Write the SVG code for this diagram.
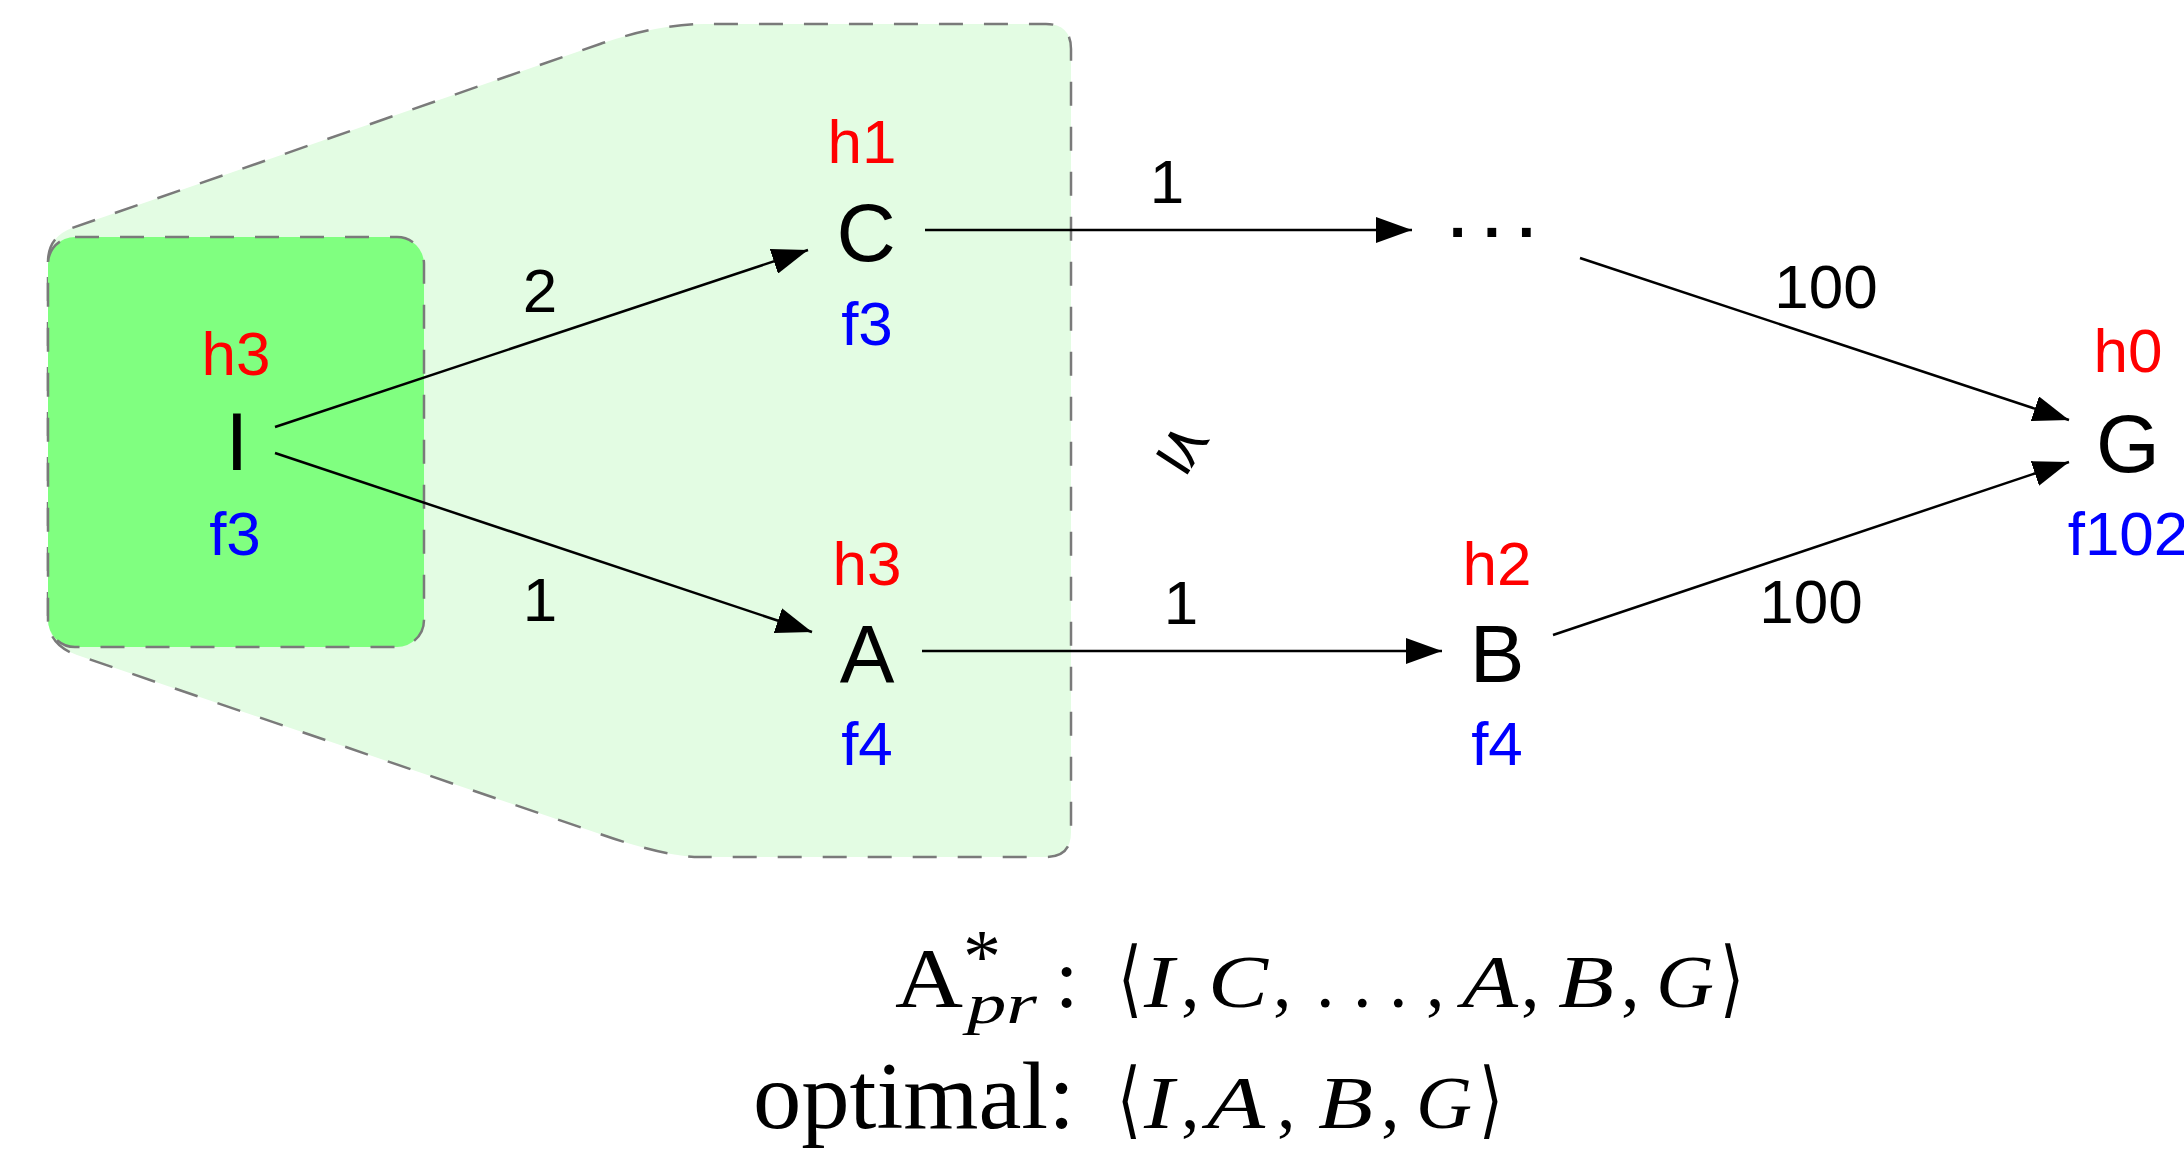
<svg xmlns="http://www.w3.org/2000/svg" width="2184" height="1151" viewBox="0 0 2184 1151">
<style>
.lbl{font-family:"Liberation Sans",Arial,sans-serif;font-size:62px;text-anchor:middle}
.h{fill:#ff0000}
.f{fill:#0000ff}
.k{fill:#000}
.node{font-family:"Liberation Sans",Arial,sans-serif;font-size:82px;text-anchor:middle;fill:#000}
.edge{stroke:#000;stroke-width:2.5;fill:none;marker-end:url(#arr)}
.dash{stroke:#7a7a7a;stroke-width:2.5;stroke-dasharray:24 21}
.serif{font-family:"Liberation Serif","Times New Roman",serif;fill:#000}
.it{font-style:italic}
.br{font-family:"DejaVu Sans","DejaVu Serif",sans-serif}
</style>
<defs>
<marker id="arr" markerUnits="userSpaceOnUse" markerWidth="36" markerHeight="26" refX="36" refY="13" orient="auto">
<path d="M0,0 L36,13 L0,26 z" fill="#000"/>
</marker>
</defs>
<rect width="2184" height="1151" fill="#fff"/>
<g id="regions">
<path id="outer-region" class="dash" fill="#e3fce3" d="M48,262 Q48,237 72,228 L600,44 Q658,24 705,24 L1046,24 Q1071,24 1071,49 L1071,832 Q1071,857 1046,857 L700,857 Q666,857 600,834 L77,655 Q48,645 48,618 Z"/>
<rect id="inner-region" class="dash" fill="#80ff80" x="48" y="237" width="376" height="410" rx="27" ry="27"/>
</g>
<g id="connectors">
<path class="edge" d="M275,427 L808,250"/>
<path class="edge" d="M275,453 L812,632"/>
<path class="edge" d="M925,230 L1412,230"/>
<path class="edge" d="M922,651 L1442,651"/>
<path class="edge" d="M1580,258 L2069,420"/>
<path class="edge" d="M1553,635 L2069,462"/>
<text class="lbl k" x="540" y="312">2</text>
<text class="lbl k" x="540" y="621">1</text>
<text class="lbl k" x="1167" y="203">1</text>
<text class="lbl k" x="1181" y="624">1</text>
<text class="lbl k" x="1826" y="308">100</text>
<text class="lbl k" x="1811" y="623">100</text>
</g>
<g id="node-I">
<text class="lbl h" x="236" y="375">h3</text>
<text class="node" x="237" y="470">I</text>
<text class="lbl f" x="235" y="555">f3</text>
</g>
<g id="node-C">
<text class="lbl h" x="862" y="163">h1</text>
<text class="node" x="866" y="261">C</text>
<text class="lbl f" x="867" y="345">f3</text>
</g>
<g id="node-A">
<text class="lbl h" x="867" y="585">h3</text>
<text class="node" x="867" y="682">A</text>
<text class="lbl f" x="867" y="765">f4</text>
</g>
<g id="node-dots">
<text class="lbl k" x="1492" y="237" font-weight="bold">. . .</text>
</g>
<g id="node-B">
<text class="lbl h" x="1497" y="585">h2</text>
<text class="node" x="1497" y="682">B</text>
<text class="lbl f" x="1497" y="765">f4</text>
</g>
<g id="node-G">
<text class="lbl h" x="2128" y="372">h0</text>
<text class="node" x="2128" y="472">G</text>
<text class="lbl f" x="2128" y="555">f102</text>
</g>
<g id="relation-symbol">
<text class="br" font-size="60" text-anchor="middle" transform="translate(1183,447) rotate(33)" x="0" y="19">⪯</text>
</g>
<g id="caption">
<text class="serif" y="1007" font-size="74"><tspan x="895" font-size="84" textLength="68" lengthAdjust="spacingAndGlyphs">A</tspan><tspan x="963" y="982" font-size="76">*</tspan><tspan class="it" x="967" y="1023" font-size="58" textLength="70" lengthAdjust="spacingAndGlyphs">pr</tspan><tspan x="1055" y="1007" font-size="84">:</tspan><tspan class="br" x="1118" font-size="84" textLength="24" lengthAdjust="spacingAndGlyphs">⟨</tspan><tspan class="it" x="1144" textLength="30" lengthAdjust="spacingAndGlyphs">I</tspan><tspan x="1181">,</tspan><tspan class="it" x="1208" textLength="60" lengthAdjust="spacingAndGlyphs">C</tspan><tspan x="1273">,</tspan><tspan x="1316">.</tspan><tspan x="1353">.</tspan><tspan x="1389">.</tspan><tspan x="1426">,</tspan><tspan class="it" x="1462" textLength="56" lengthAdjust="spacingAndGlyphs">A</tspan><tspan x="1521">,</tspan><tspan class="it" x="1558" textLength="56" lengthAdjust="spacingAndGlyphs">B</tspan><tspan x="1621">,</tspan><tspan class="it" x="1656" textLength="58" lengthAdjust="spacingAndGlyphs">G</tspan><tspan class="br" x="1720" font-size="84" textLength="24" lengthAdjust="spacingAndGlyphs">⟩</tspan></text>
<text class="serif" y="1128" font-size="74"><tspan x="753" font-size="96" textLength="322" lengthAdjust="spacingAndGlyphs">optimal:</tspan><tspan class="br" x="1117" font-size="84" textLength="24" lengthAdjust="spacingAndGlyphs">⟨</tspan><tspan class="it" x="1144" textLength="30" lengthAdjust="spacingAndGlyphs">I</tspan><tspan x="1181">,</tspan><tspan class="it" x="1207" textLength="58" lengthAdjust="spacingAndGlyphs">A</tspan><tspan x="1277">,</tspan><tspan class="it" x="1318" textLength="55" lengthAdjust="spacingAndGlyphs">B</tspan><tspan x="1381">,</tspan><tspan class="it" x="1416" textLength="56" lengthAdjust="spacingAndGlyphs">G</tspan><tspan class="br" x="1479" font-size="84" textLength="24" lengthAdjust="spacingAndGlyphs">⟩</tspan></text>
</g>
</svg>
